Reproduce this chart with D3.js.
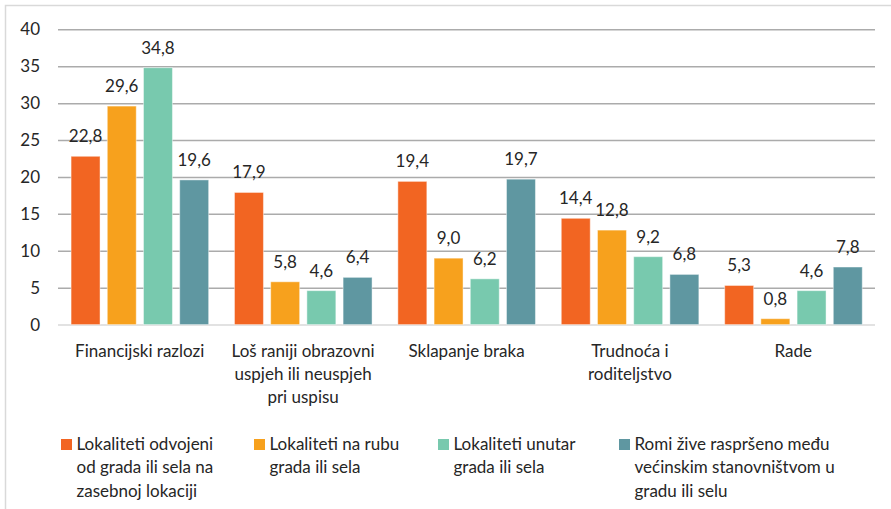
<!DOCTYPE html>
<html>
<head>
<meta charset="utf-8">
<script src="https://cdn.jsdelivr.net/npm/d3@7"></script>
<style>
  html, body { margin: 0; padding: 0; background: #fff; }
  svg { display: block; }
  text { font-family: Lato, "Open Sans", sans-serif; fill: #262626; }
</style>
</head>
<body>
<svg id="chart" width="891" height="509"></svg>
<script>
// Reasons for leaving school, by type of Roma settlement (%)
const categories = [
  ["Financijski razlozi"],
  ["Loš raniji obrazovni", "uspjeh ili neuspjeh", "pri uspisu"],
  ["Sklapanje braka"],
  ["Trudnoća i", "roditeljstvo"],
  ["Rade"]
];
const seriesNames = [
  ["Lokaliteti odvojeni", "od grada ili sela na", "zasebnoj lokaciji"],
  ["Lokaliteti na rubu", "grada ili sela"],
  ["Lokaliteti unutar", "grada ili sela"],
  ["Romi žive raspršeno među", "većinskim stanovništvom u", "gradu ili selu"]
];
const seriesColors = ["#F26522", "#F7A11D", "#78C9AE", "#5F97A1"];
const odvojeni  = [22.8, 17.9, 19.4, 14.4, 5.3];
const naRubu    = [29.6, 5.8, 9.0, 12.8, 0.8];
const unutar    = [34.8, 4.6, 6.2, 9.2, 4.6];
const rasprseno = [19.6, 6.4, 19.7, 6.8, 7.8];
const seriesValues = [odvojeni, naRubu, unutar, rasprseno];
const yTicks = [0, 5, 10, 15, 20, 25, 30, 35, 40];

const svg = d3.select("#chart");
const fmt = v => d3.format(".1f")(v).replace(".", ",");
const catKeys = categories.map((c, i) => i);
const serKeys = seriesNames.map((s, i) => i);

// chart frame
svg.append("rect")
  .attr("x", 5.5).attr("y", 5.5)
  .attr("width", 900).attr("height", 520)
  .attr("fill", "none").attr("stroke", "#d9d9d9").attr("stroke-width", 1.5);

const x0 = d3.scaleBand().domain(catKeys).range([58, 875]).padding(0);
const bw = x0.bandwidth();
const x1 = d3.scaleBand().domain(serKeys)
  .range([bw * 0.08, bw * 0.922]).paddingInner(0.2).paddingOuter(0);
const y = d3.scaleLinear().domain([0, 40]).range([324.6, 29.3]);

// gridlines and y tick labels
const yAxis = d3.axisLeft(y).tickValues(yTicks).tickSize(-(875 - 58)).tickPadding(18).tickFormat(d => d);
const ga = svg.append("g").attr("transform", "translate(58,0)").call(yAxis);
ga.select(".domain").remove();
ga.selectAll(".tick line")
  .attr("stroke", d => d === 0 ? "#d9d9d9" : "#ababab")
  .attr("stroke-width", 1.5);
ga.selectAll(".tick text")
  .attr("font-size", 17).attr("fill", "#262626")
  .style("font-family", "Lato, 'Open Sans', sans-serif");

// bars
const groups = svg.append("g").selectAll("g")
  .data(catKeys).join("g")
  .attr("transform", c => `translate(${x0(c)},0)`);

groups.selectAll("rect")
  .data(c => serKeys.map(s => ({ s, v: seriesValues[s][c] })))
  .join("rect")
  .attr("x", d => x1(d.s))
  .attr("width", x1.bandwidth())
  .attr("y", d => y(d.v))
  .attr("height", d => y(0) - y(d.v))
  .attr("fill", d => seriesColors[d.s])
  .attr("stroke", "rgba(255,255,255,0.45)")
  .attr("stroke-width", 1);

// value labels
groups.selectAll("text.val")
  .data(c => serKeys.map(s => ({ s, v: seriesValues[s][c] })))
  .join("text")
  .attr("class", "val")
  .attr("x", d => x1(d.s) + x1.bandwidth() / 2)
  .attr("y", d => y(d.v) - 14)
  .attr("text-anchor", "middle")
  .attr("font-size", 17)
  .text(d => fmt(d.v));

// category labels
const catLabels = svg.append("g").selectAll("text")
  .data(catKeys).join("text")
  .attr("text-anchor", "middle")
  .attr("font-size", 17)
  .attr("x", c => x0(c) + bw / 2)
  .attr("y", 356.5);
catLabels.selectAll("tspan")
  .data(c => categories[c])
  .join("tspan")
  .attr("x", function () { return d3.select(this.parentNode).attr("x"); })
  .attr("dy", (d, i) => i === 0 ? 0 : 23.2)
  .text(d => d);

// legend
const legendX = [61, 254, 438, 619];
const leg = svg.append("g").selectAll("g")
  .data(serKeys).join("g")
  .attr("transform", s => `translate(${legendX[s]},450)`);
leg.append("rect")
  .attr("x", 0).attr("y", -11)
  .attr("width", 11).attr("height", 11)
  .attr("fill", s => seriesColors[s]);
const legText = leg.append("text")
  .attr("font-size", 17)
  .attr("x", 15.5).attr("y", 0);
legText.selectAll("tspan")
  .data(s => seriesNames[s])
  .join("tspan")
  .attr("x", 15.5)
  .attr("dy", (d, i) => i === 0 ? 0 : 23.3)
  .text(d => d);
</script>
</body>
</html>
